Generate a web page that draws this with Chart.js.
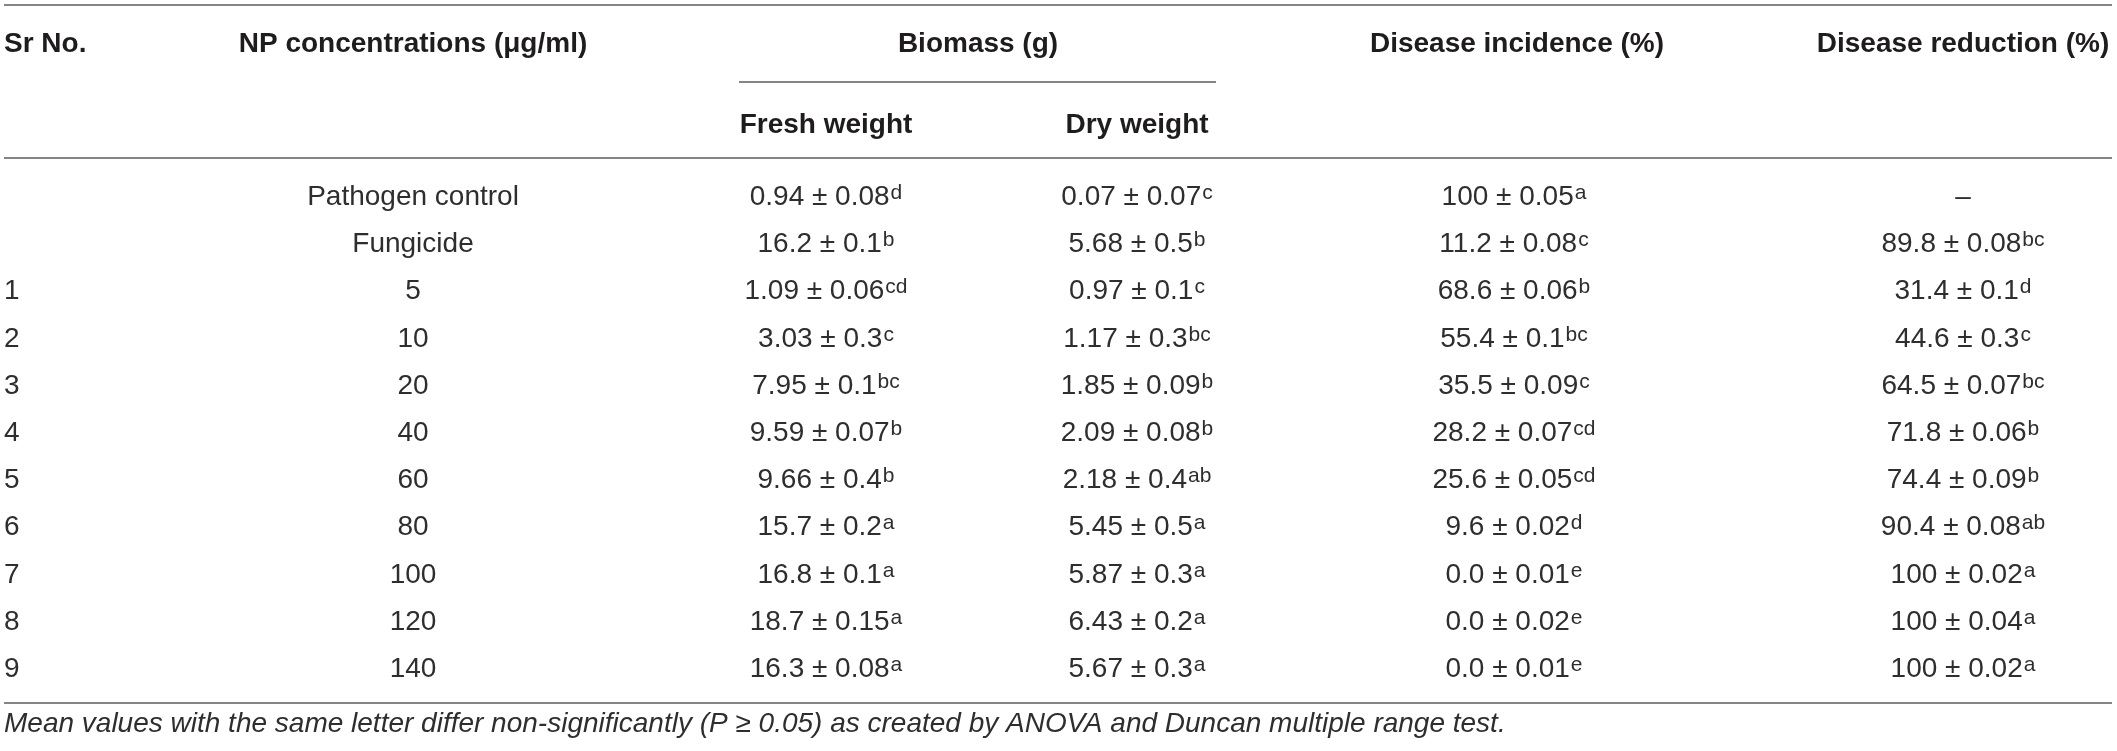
<!DOCTYPE html>
<html>
<head>
<meta charset="utf-8">
<script src="https://cdn.jsdelivr.net/npm/chart.js@4.4.1/dist/chart.umd.min.js"></script>
<style>
  html, body { margin: 0; padding: 0; background: #fff; }
  #wrap { width: 2117px; height: 751px; position: relative; }
</style>
</head>
<body>
<div id="wrap"><canvas id="tbl"></canvas></div>
<script>
// ---- table data ----
const srNo = ["", "", "1", "2", "3", "4", "5", "6", "7", "8", "9"];
const npConc = ["Pathogen control", "Fungicide", "5", "10", "20", "40", "60", "80", "100", "120", "140"];

const freshMean = ["0.94", "16.2", "1.09", "3.03", "7.95", "9.59", "9.66", "15.7", "16.8", "18.7", "16.3"];
const freshSd = ["0.08", "0.1", "0.06", "0.3", "0.1", "0.07", "0.4", "0.2", "0.1", "0.15", "0.08"];
const freshSig = ["d", "b", "cd", "c", "bc", "b", "b", "a", "a", "a", "a"];

const dryMean = ["0.07", "5.68", "0.97", "1.17", "1.85", "2.09", "2.18", "5.45", "5.87", "6.43", "5.67"];
const drySd = ["0.07", "0.5", "0.1", "0.3", "0.09", "0.08", "0.4", "0.5", "0.3", "0.2", "0.3"];
const drySig = ["c", "b", "c", "bc", "b", "b", "ab", "a", "a", "a", "a"];

const incMean = ["100", "11.2", "68.6", "55.4", "35.5", "28.2", "25.6", "9.6", "0.0", "0.0", "0.0"];
const incSd = ["0.05", "0.08", "0.06", "0.1", "0.09", "0.07", "0.05", "0.02", "0.01", "0.02", "0.01"];
const incSig = ["a", "c", "b", "bc", "c", "cd", "cd", "d", "e", "e", "e"];

const redMean = [null, "89.8", "31.4", "44.6", "64.5", "71.8", "74.4", "90.4", "100", "100", "100"];
const redSd = [null, "0.08", "0.1", "0.3", "0.07", "0.06", "0.09", "0.08", "0.02", "0.04", "0.02"];
const redSig = [null, "bc", "d", "c", "bc", "b", "b", "ab", "a", "a", "a"];

const topHeaders = ["Sr No.", "NP concentrations (\u03bcg/ml)", "Biomass (g)", "Disease incidence (%)", "Disease reduction (%)"];
const subHeaders = ["Fresh weight", "Dry weight"];
const footnote = "Mean values with the same letter differ non-significantly (P \u2265 0.05) as created by ANOVA and Duncan multiple range test.";

// ---- layout ----
const colX = { sr: 4, np: 413, fresh: 826, dry: 1137, inc: 1514, red: 1963 };
const biomassX = 978;
const HEAD = "#1f1c1d";
const BODY = "#2e2e2e";
const RULE = "#858585";
const FONT = "'Liberation Sans', Arial, sans-serif";

function stat(mean, sd, sig) {
  return function (i) {
    if (mean[i] == null) return { main: "\u2013", sup: "" };
    return { main: mean[i] + " \u00b1 " + sd[i], sup: sig[i] };
  };
}

const columns = [
  { key: "sr", align: "left", cell: i => ({ main: srNo[i], sup: "" }) },
  { key: "np", align: "center", cell: i => ({ main: npConc[i], sup: "" }) },
  { key: "fresh", align: "center", cell: stat(freshMean, freshSd, freshSig) },
  { key: "dry", align: "center", cell: stat(dryMean, drySd, drySig) },
  { key: "inc", align: "center", cell: stat(incMean, incSd, incSig) },
  { key: "red", align: "center", cell: stat(redMean, redSd, redSig) }
];

function hline(ctx, x1, x2, y) {
  ctx.beginPath();
  ctx.moveTo(x1, y);
  ctx.lineTo(x2, y);
  ctx.stroke();
}

function drawCell(ctx, c, x, y, align) {
  const base = y + 10;
  ctx.font = "28px " + FONT;
  const w1 = ctx.measureText(c.main).width;
  ctx.font = "21px " + FONT;
  const w2 = c.sup ? ctx.measureText(c.sup).width + 1 : 0;
  const left = align === "left" ? x : x - (w1 + w2) / 2;
  ctx.textAlign = "left";
  ctx.textBaseline = "alphabetic";
  ctx.font = "28px " + FONT;
  ctx.fillText(c.main, left, base);
  if (c.sup) {
    ctx.font = "21px " + FONT;
    ctx.fillText(c.sup, left + w1 + 1, base - 6);
  }
}

const tablePlugin = {
  id: "tableText",
  afterDatasetsDraw(chart) {
    const ctx = chart.ctx;
    ctx.save();
    ctx.strokeStyle = RULE;
    ctx.lineWidth = 2;
    hline(ctx, 4, 2112, 5);
    hline(ctx, 739, 1216, 82);
    hline(ctx, 4, 2112, 158);
    hline(ctx, 4, 2112, 703);

    ctx.fillStyle = HEAD;
    ctx.textBaseline = "alphabetic";
    ctx.font = "bold 28px " + FONT;
    ctx.textAlign = "left";
    ctx.fillText(topHeaders[0], colX.sr, 52);
    ctx.textAlign = "center";
    ctx.fillText(topHeaders[1], colX.np, 52);
    ctx.fillText(topHeaders[2], biomassX, 52);
    ctx.fillText(topHeaders[3], colX.inc + 3, 52);
    ctx.fillText(topHeaders[4], colX.red, 52);
    ctx.fillText(subHeaders[0], colX.fresh, 133);
    ctx.fillText(subHeaders[1], colX.dry, 133);

    ctx.fillStyle = BODY;
    chart.data.datasets.forEach((ds, di) => {
      const col = columns[di];
      chart.getDatasetMeta(di).data.forEach((pt, i) => {
        drawCell(ctx, col.cell(i), pt.x, pt.y, col.align);
      });
    });

    ctx.textAlign = "left";
    ctx.font = "italic 28px " + FONT;
    ctx.fillText(footnote, 4, 732);
    ctx.restore();
  }
};

new Chart(document.getElementById("tbl"), {
  type: "scatter",
  data: {
    datasets: columns.map(col => ({
      label: col.key,
      data: npConc.map((_, i) => ({ x: colX[col.key], y: i })),
      pointRadius: 0,
      pointHoverRadius: 0
    }))
  },
  options: {
    responsive: true,
    maintainAspectRatio: false,
    animation: false,
    events: [],
    layout: { padding: { top: 171.4, bottom: 60.4, left: 0, right: 0 } },
    plugins: { legend: { display: false }, tooltip: { enabled: false } },
    scales: {
      x: { type: "linear", min: 0, max: 2117, display: false },
      y: { type: "linear", min: -0.5, max: npConc.length - 0.5, reverse: true, display: false }
    }
  },
  plugins: [tablePlugin]
});
</script>
</body>
</html>
